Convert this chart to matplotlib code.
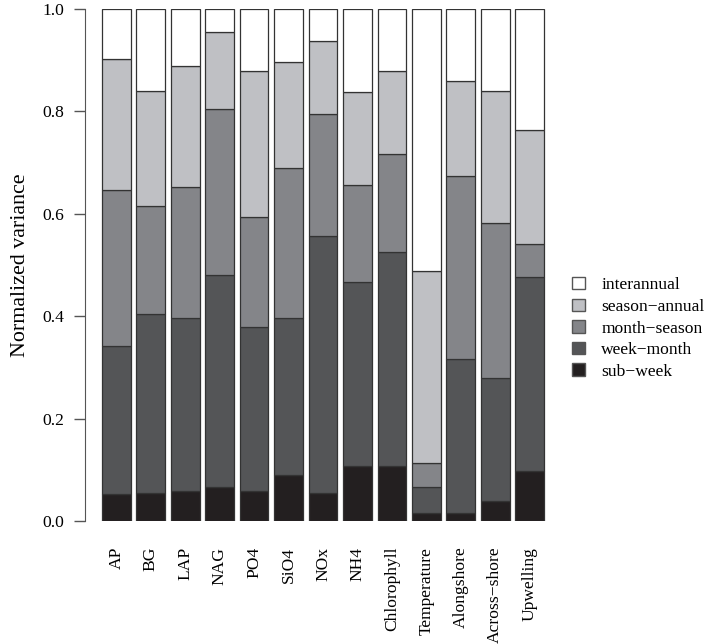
import matplotlib
matplotlib.use("Agg")
import matplotlib.pyplot as plt
from matplotlib.patches import Patch
import numpy as np

plt.rcParams['font.family'] = ['Liberation Serif', 'DejaVu Serif']

categories = ["AP", "BG", "LAP", "NAG", "PO4", "SiO4", "NOx", "NH4",
              "Chlorophyll", "Temperature", "Alongshore", "Across\u2212shore", "Upwelling"]

# cumulative tops (bottom to top)
cum_sub_week      = [0.053, 0.055, 0.059, 0.066, 0.059, 0.089, 0.055, 0.107, 0.107, 0.016, 0.015, 0.039, 0.097]
cum_week_month    = [0.342, 0.405, 0.396, 0.480, 0.378, 0.397, 0.556, 0.467, 0.526, 0.066, 0.316, 0.280, 0.477]
cum_month_season  = [0.647, 0.615, 0.653, 0.805, 0.593, 0.689, 0.795, 0.656, 0.716, 0.114, 0.673, 0.582, 0.541]
cum_season_annual = [0.903, 0.839, 0.889, 0.955, 0.878, 0.897, 0.938, 0.838, 0.878, 0.489, 0.860, 0.839, 0.763]
cum_interannual   = [1.0] * 13

series_names = ["sub\u2212week", "week\u2212month", "month\u2212season", "season\u2212annual", "interannual"]
colors = ["#231f20", "#545557", "#848589", "#bfc0c4", "#ffffff"]

cums = [cum_sub_week, cum_week_month, cum_month_season, cum_season_annual, cum_interannual]

BASE = 15.8
SMALL = 12.6

fig = plt.figure(figsize=(7.05, 6.44), dpi=100)
W, H = 705, 644
bw = 28.7
left_px = 102 - 0.2 * bw
ax = fig.add_axes([left_px / W, (H - 521) / H, 15.8 * bw / W, 512 / H])

x = np.arange(len(categories)) * 1.2
prev = np.zeros(len(categories))
for name, col, cum in zip(series_names, colors, cums):
    cum = np.array(cum)
    ax.bar(x, cum - prev, bottom=prev, width=1.0, color=col,
           edgecolor="#333333", linewidth=0.9, label=name)
    prev = cum

ax.set_xlim(-0.7, 15.1)
ax.set_ylim(0, 1)
for s in ["top", "right", "bottom"]:
    ax.spines[s].set_visible(False)
ax.spines["left"].set_position(("outward", 8.1))
ax.spines["left"].set_bounds(0, 1)
ax.spines["left"].set_color("#555555")
ax.set_yticks([0, 0.2, 0.4, 0.6, 0.8, 1.0])
ax.set_yticklabels(["0.0", "0.2", "0.4", "0.6", "0.8", "1.0"])
ax.tick_params(axis="y", length=8, width=1, color="#555555", labelsize=SMALL, pad=7)
ax.set_xticks(x)
ax.set_xticklabels(categories, rotation=90, fontsize=SMALL, va="top", ha="center")
ax.tick_params(axis="x", length=0, pad=18.5)
ax.set_ylabel("Normalized variance", fontsize=BASE, labelpad=9)

handles = [Patch(facecolor=c, edgecolor="#555555", linewidth=1.0, label=n)
           for n, c in zip(series_names[::-1], colors[::-1])]
fig.legend(handles=handles, loc="upper left", bbox_to_anchor=(572 / W, 1 - 277 / H),
           frameon=False, fontsize=SMALL, handlelength=0.72, handleheight=0.72,
           handletextpad=0.95, labelspacing=0.3, borderaxespad=0, borderpad=0)

fig.savefig("out.png", dpi=100)
